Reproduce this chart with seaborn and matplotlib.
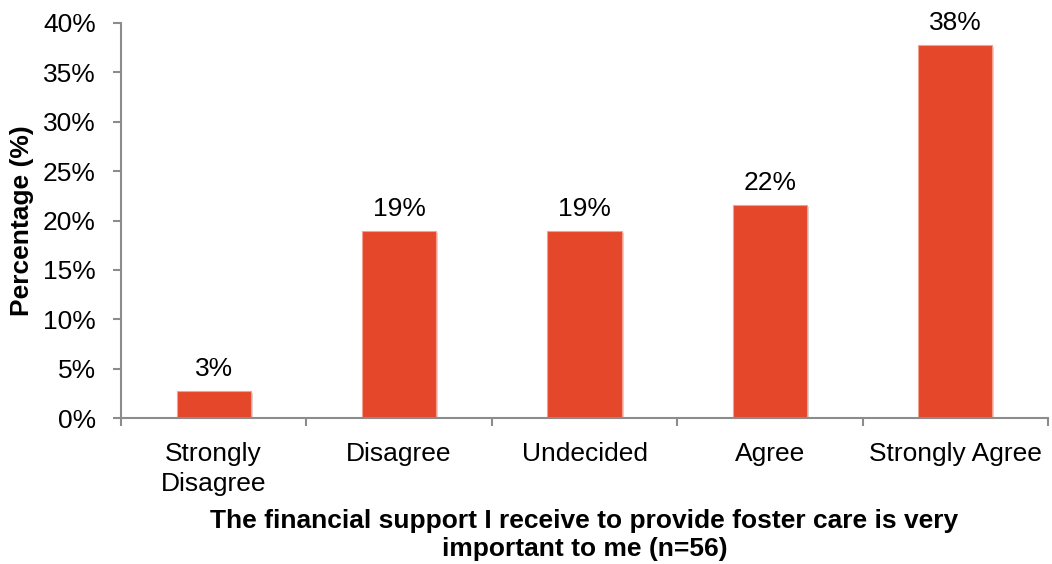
import matplotlib
matplotlib.use("Agg")
import matplotlib.pyplot as plt
import matplotlib.patheffects as pe
import seaborn as sns
import pandas as pd
import numpy as np

categories = ["Strongly\nDisagree", "Disagree", "Undecided", "Agree", "Strongly Agree"]
percentages = [2.7, 18.9, 18.9, 21.6, 37.8]
y_ticks = [0, 5, 10, 15, 20, 25, 30, 35, 40]

sns.set_theme(style="white")
plt.rcParams["font.family"] = ["Liberation Sans", "DejaVu Sans"]

df = pd.DataFrame({"category": categories, "pct": percentages})

W, H = 1052, 564
fig = plt.figure(figsize=(W / 100, H / 100), dpi=100)
left, right, top, bottom = 121, 1048, 23, 418
ax = fig.add_axes([left / W, 1 - bottom / H, (right - left) / W, (bottom - top) / H])

FS = 19
bar_color = "#E5472A"
sns.barplot(data=df, x="category", y="pct", ax=ax, color=bar_color,
            width=0.4, saturation=1, edgecolor="#F4A090", linewidth=0.8)

for patch in ax.patches:
    patch.set_path_effects([pe.SimplePatchShadow(offset=(1.5, -1.5), shadow_rgbFace="#B0B0B0", alpha=0.5),
                            pe.Normal()])

for i, v in enumerate(percentages):
    ax.text(i, v + 1.0, f"{v:.0f}%", ha="center", va="bottom", fontsize=FS, color="black")

ax.set_xlim(-0.5, len(categories) - 0.5)
ax.set_ylim(0, 40)
ax.set_yticks(y_ticks)
ax.set_yticklabels([f"{t}%" for t in y_ticks], fontsize=FS, color="black")

ax.set_xticks(range(len(categories)))
ax.set_xticklabels(categories, fontsize=FS, color="black", linespacing=1.35)
ax.set_xticks(np.arange(-0.5, len(categories) + 0.5, 1), minor=True)
ax.tick_params(axis="x", which="major", length=0, pad=17)
ax.tick_params(axis="x", which="minor", length=6, width=1.5, color="#8C8C8C", direction="out")
ax.tick_params(axis="y", length=6, width=1.5, color="#8C8C8C", direction="out", pad=12)
ax.tick_params(bottom=True, left=True, which="both")

for side in ["top", "right"]:
    ax.spines[side].set_visible(False)
for side in ["left", "bottom"]:
    ax.spines[side].set_color("#8C8C8C")
    ax.spines[side].set_linewidth(1.5)

ax.set_ylabel("Percentage (%)", fontsize=FS, fontweight="bold", color="black", va="center")
ax.yaxis.set_label_coords((22 - left) / (right - left), 0.5)
ax.set_xlabel("The financial support I receive to provide foster care is very\nimportant to me (n=56)",
              fontsize=FS, fontweight="bold", color="black", linespacing=1.2)
ax.xaxis.set_label_coords(0.5, -(535 - bottom) / (bottom - top))
ax.xaxis.label.set_va("center")

fig.savefig("out.png", dpi=100)
